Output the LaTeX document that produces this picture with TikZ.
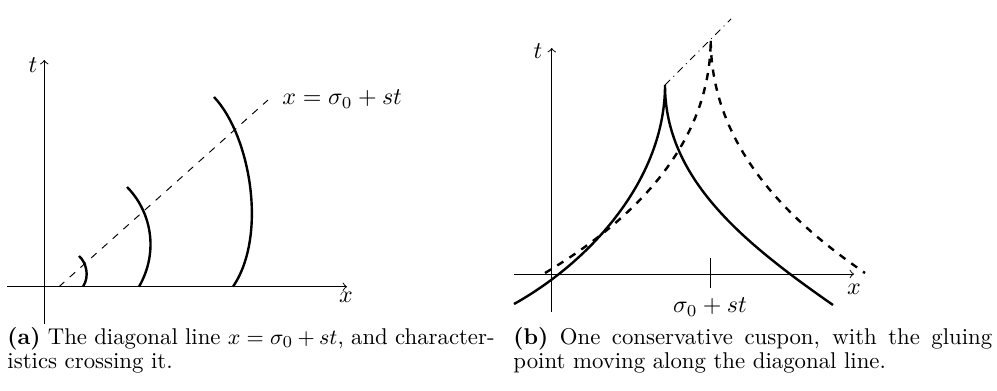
\documentclass[tikz,border=0pt]{standalone}
\begin{document}
\begin{tikzpicture}[x=0.4167pt,y=-0.4167pt,
  axis/.style={->,line width=0.4pt},
  curve/.style={line width=1pt},
  dcurve/.style={line width=1pt,dashed},
  diag/.style={line width=0.4pt,dashed},
  lbl/.style={inner sep=0pt},
  capt/.style={inner sep=0pt,anchor=base west,text width=203pt,align=justify,font=\fontsize{9.5}{10}\selectfont}]
\useasboundingbox (0,0) rectangle (997,390);
% ---------- panel (a)
\coordinate (ax0) at (7,286.7); \coordinate (ax1) at (347,286.7);
\coordinate (at0) at (44.3,324); \coordinate (at1) at (44.3,60);
\draw[axis] (ax0) -- (ax1);
\draw[axis] (at0) -- (at1);
\node[lbl] (tA) at (33,65) {$t$};
\node[lbl] (xA) at (346,297) {$x$};
\coordinate (d0) at (59,286.7); \coordinate (d1) at (268,100);
\draw[diag] (d0) -- (d1);
\node[lbl,anchor=west] (eqA) at (282,99) {$x=\sigma_0+st$};
\coordinate (c1a) at (79,256); \coordinate (c1b) at (83,286.7);
\coordinate (c2a) at (127,187); \coordinate (c2b) at (139,286.7);
\coordinate (c3a) at (214,97); \coordinate (c3b) at (233,286.7);
\draw[curve] (c1a) .. controls (86,262) and (90,276) .. (c1b);
\draw[curve] (c2a) .. controls (150,210) and (160,250) .. (c2b);
\draw[curve] (c3a) .. controls (250,135) and (268,235) .. (c3b);
\node[capt] (capA) at (7,344) {\noindent\textbf{(a)} The diagonal line $x=\sigma_0+st$, and character-\linebreak istics crossing it.};
% ---------- panel (b)
\coordinate (bx0) at (514,274); \coordinate (bx1) at (854,274);
\coordinate (bt0) at (551.7,312); \coordinate (bt1) at (551.7,48);
\draw[axis] (bx0) -- (bx1);
\draw[axis] (bt0) -- (bt1);
\node[lbl] (tB) at (538,51) {$t$};
\node[lbl] (xB) at (854,289) {$x$};
\coordinate (tk0) at (710.7,258); \coordinate (tk1) at (710.7,288);
\draw[line width=0.4pt] (tk0) -- (tk1);
\node[lbl] (sB) at (710,307) {$\sigma_0+st$};
\coordinate (s0) at (514,304); \coordinate (s1) at (665,85); \coordinate (s2) at (833,305);
\coordinate (q0) at (545,273); \coordinate (q1) at (710.7,39); \coordinate (q2) at (865,273);
\coordinate (dd) at (731,19);
\draw[line width=0.4pt,dash dot] (s1) -- (dd);
\draw[curve] (s0) .. controls (589.4,262) and (665,180) .. (s1) .. controls (665,180) and (745.6,244) .. (s2);
\draw[dcurve] (q0) .. controls (610,234) and (710.7,159) .. (q1) .. controls (710.7,150) and (795,225) .. (q2);
\node[capt,text width=199.5pt] (capB) at (513,344) {\noindent\textbf{(b)} One conservative cuspon, with the gluing\linebreak point moving along the diagonal line.};
\end{tikzpicture}
\end{document}
